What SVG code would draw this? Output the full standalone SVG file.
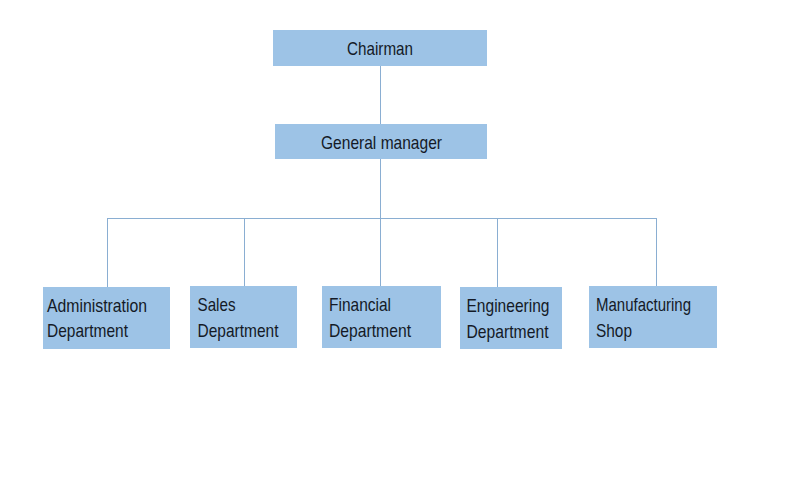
<svg xmlns="http://www.w3.org/2000/svg" width="800" height="500" viewBox="0 0 800 500">
<style>
.box{fill:#9dc3e6;stroke:none}
.t{font-family:"Liberation Sans",Arial,sans-serif;font-size:19px;fill:#141a26}
.c{fill:none;stroke:#8aaed2;stroke-width:1}
</style>
<rect width="800" height="500" fill="#ffffff"/>
<g id="connectors">
<line class="c" x1="380.5" y1="66" x2="380.5" y2="124"/>
<line class="c" x1="380.5" y1="159" x2="380.5" y2="286"/>
<line class="c" x1="107.5" y1="218.5" x2="656.5" y2="218.5"/>
<line class="c" x1="107.5" y1="218" x2="107.5" y2="287"/>
<line class="c" x1="244.5" y1="218" x2="244.5" y2="286"/>
<line class="c" x1="497.5" y1="218" x2="497.5" y2="287"/>
<line class="c" x1="656.5" y1="218" x2="656.5" y2="286"/>
</g>
<g id="chairman">
<rect class="box" x="273" y="30" width="214" height="36"/>
<text class="t" x="347" y="54.5" textLength="66" lengthAdjust="spacingAndGlyphs">Chairman</text>
</g>
<g id="general-manager">
<rect class="box" x="275" y="124" width="212" height="35"/>
<text class="t" x="321" y="148.5" textLength="121" lengthAdjust="spacingAndGlyphs">General manager</text>
</g>
<g id="administration">
<rect class="box" x="43" y="287" width="127" height="62"/>
<text class="t" x="47" y="311.5" textLength="100" lengthAdjust="spacingAndGlyphs">Administration</text>
<text class="t" x="47" y="337" textLength="81" lengthAdjust="spacingAndGlyphs">Department</text>
</g>
<g id="sales">
<rect class="box" x="190" y="286" width="107" height="62"/>
<text class="t" x="197.5" y="311" textLength="38" lengthAdjust="spacingAndGlyphs">Sales</text>
<text class="t" x="197.5" y="337" textLength="81" lengthAdjust="spacingAndGlyphs">Department</text>
</g>
<g id="financial">
<rect class="box" x="322" y="286" width="119" height="62"/>
<text class="t" x="329" y="310.5" textLength="62" lengthAdjust="spacingAndGlyphs">Financial</text>
<text class="t" x="329" y="336.5" textLength="82" lengthAdjust="spacingAndGlyphs">Department</text>
</g>
<g id="engineering">
<rect class="box" x="460" y="287" width="102" height="62"/>
<text class="t" x="466.5" y="311.5" textLength="83" lengthAdjust="spacingAndGlyphs">Engineering</text>
<text class="t" x="466.5" y="337.5" textLength="82" lengthAdjust="spacingAndGlyphs">Department</text>
</g>
<g id="manufacturing">
<rect class="box" x="589" y="286" width="128" height="62"/>
<text class="t" x="596" y="310.5" textLength="95" lengthAdjust="spacingAndGlyphs">Manufacturing</text>
<text class="t" x="596" y="336.5" textLength="36" lengthAdjust="spacingAndGlyphs">Shop</text>
</g>
</svg>
